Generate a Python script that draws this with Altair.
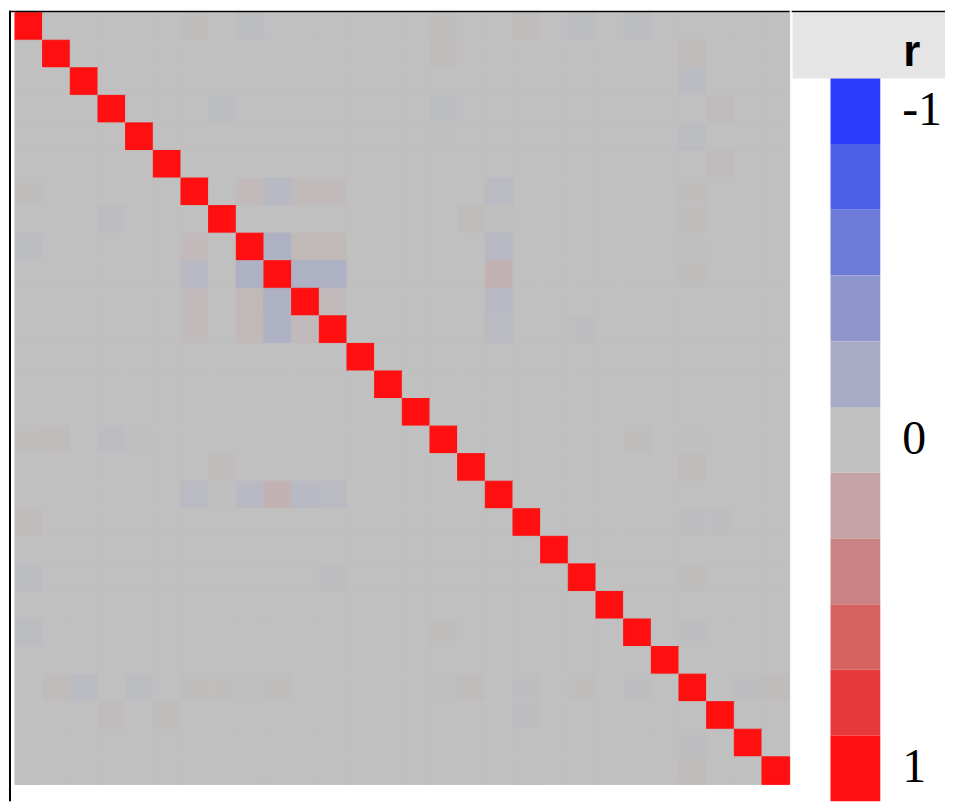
import altair as alt
import pandas as pd

# ---------------- data ----------------
n_vars = 28
var_names = [f"V{k + 1}" for k in range(n_vars)]

# upper-triangle correlations that differ visibly from 0 (matrix is symmetric, diagonal = 1)
pair_i = [0, 0, 0, 0, 0, 0, 1, 1, 2, 3, 3, 3, 4, 4, 5, 6, 6, 6, 6, 6, 6, 7, 7, 7,
          8, 8, 8, 8, 8, 9, 9, 9, 9, 10, 10, 11, 11, 15, 15, 16, 18, 18, 20, 22, 24, 24]
pair_j = [6, 8, 15, 18, 20, 22, 15, 24, 24, 7, 15, 25, 15, 24, 25, 8, 9, 10, 11, 17, 24, 16, 17, 24,
          9, 10, 11, 17, 24, 10, 11, 17, 24, 11, 17, 17, 20, 22, 24, 24, 24, 25, 24, 24, 26, 27]
pair_r = [0.02, -0.03, 0.02, 0.03, -0.03, -0.03, 0.03, 0.03, -0.04, -0.03, -0.03, 0.03,
          -0.01, -0.03, 0.03, 0.05, -0.07, 0.04, 0.04, -0.06, 0.02, 0.03, -0.01, 0.02,
          -0.15, 0.06, 0.06, -0.07, -0.01, -0.15, -0.14, 0.10, 0.02, 0.05, -0.07, -0.06, -0.02,
          0.02, -0.01, 0.03, -0.02, -0.02, 0.02, -0.02, -0.02, 0.03]

legend_levels = [-1.0, -0.8, -0.6, -0.4, -0.2, 0.0, 0.2, 0.4, 0.6, 0.8, 1.0]
legend_colors = ["#2b3dff", "#4c60e8", "#6e7cd9", "#8f96cc", "#a8abc5", "#c0c0c0",
                 "#c4a4a6", "#c98384", "#d66262", "#e63a3a", "#ff0f0f"]
legend_labels = ["-1", "", "", "", "", "0", "", "", "", "", "1"]
legend_title = "r"

# ---------------- build tables ----------------
lookup = {}
for a, b, v in zip(pair_i, pair_j, pair_r):
    lookup[(a, b)] = v
    lookup[(b, a)] = v

rows = []
for i in range(n_vars):
    for j in range(n_vars):
        val = 1.0 if i == j else lookup.get((i, j), 0.0)
        rows.append({"row": var_names[i], "col": var_names[j], "r": val})
heat_df = pd.DataFrame(rows)

leg_keys = [f"{v:+.1f}" for v in legend_levels]
leg_df = pd.DataFrame({"key": leg_keys, "r": legend_levels, "label": legend_labels})
title_df = pd.DataFrame({"key": ["title"], "t": [legend_title]})

color_scale = alt.Scale(domain=legend_levels, range=legend_colors, interpolate="rgb")

H = 794  # common view height

# ---------------- heatmap ----------------
heat_rect = alt.Chart(heat_df).mark_rect(strokeWidth=1).encode(
    x=alt.X("col:N", sort=var_names, axis=None,
            scale=alt.Scale(paddingInner=0, paddingOuter=0, range=[6, 784])),
    y=alt.Y("row:N", sort=var_names, axis=None,
            scale=alt.Scale(paddingInner=0, paddingOuter=0, range=[2, 777])),
    color=alt.Color("r:Q", scale=color_scale, legend=None),
    stroke=alt.Stroke("r:Q", scale=color_scale, legend=None),
)

frame_left = alt.Chart(title_df).mark_rule(color="#000000", strokeWidth=2).encode(
    x=alt.value(1), y=alt.value(0), y2=alt.value(H)
)
frame_top = alt.Chart(title_df).mark_rule(color="#000000", strokeWidth=1.5).encode(
    x=alt.value(0), x2=alt.value(784), y=alt.value(0.75)
)

heat = alt.layer(heat_rect, frame_left, frame_top).properties(width=784, height=H)

# ---------------- legend ----------------
yscale = alt.Scale(domain=["title"] + leg_keys, paddingInner=0, paddingOuter=0, range=[2, H])

header = alt.Chart(title_df).mark_rect(color="#e5e5e5").encode(
    y=alt.Y("key:N", scale=yscale, axis=None),
    x=alt.value(1), x2=alt.value(154),
)
header_text = alt.Chart(title_df).mark_text(
    font="Liberation Sans", fontSize=44, fontWeight="bold", align="left",
    baseline="middle", dy=8, color="#000000"
).encode(
    y=alt.Y("key:N", scale=yscale, axis=None),
    x=alt.value(112),
    text="t:N",
)
swatches = alt.Chart(leg_df).mark_rect().encode(
    y=alt.Y("key:N", scale=yscale, axis=None),
    x=alt.value(39), x2=alt.value(89),
    color=alt.Color("r:Q", scale=color_scale, legend=None),
)
labels = alt.Chart(leg_df).mark_text(
    font="Liberation Serif", fontSize=48, align="left", baseline="middle", color="#000000"
).encode(
    y=alt.Y("key:N", scale=yscale, axis=None),
    x=alt.value(111),
    text="label:N",
)
legend_top = alt.Chart(title_df).mark_rule(color="#000000", strokeWidth=1.5).encode(
    x=alt.value(0), x2=alt.value(154), y=alt.value(0.75)
)

legend = alt.layer(header, header_text, swatches, labels, legend_top).properties(width=154, height=H)

chart = alt.hconcat(heat, legend, spacing=0).properties(
    padding={"left": 0, "top": 0, "right": 0, "bottom": 0},
    background="#ffffff",
).configure_view(stroke=None)

chart.save("out.html", embed_options={"renderer": "svg", "actions": False})
